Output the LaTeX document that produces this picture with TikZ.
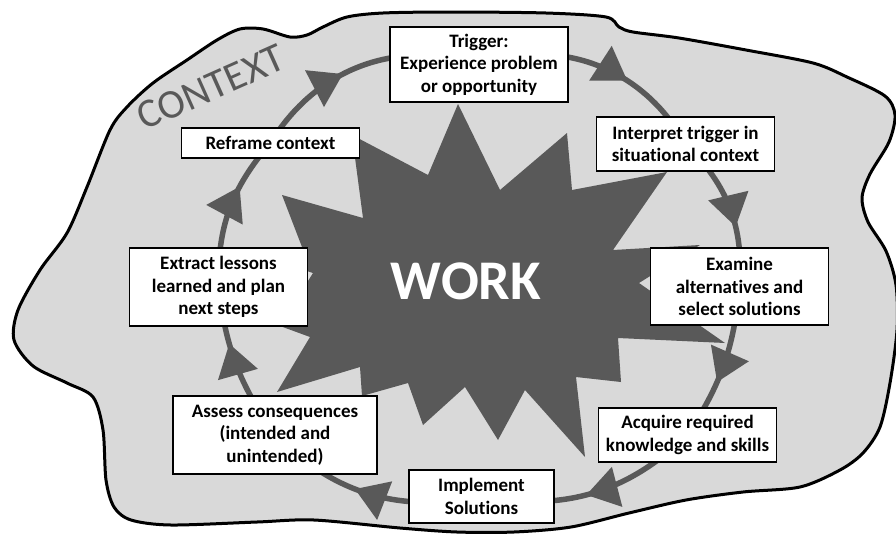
\documentclass[tikz,border=0pt]{standalone}
\usepackage{fontspec}
\setmainfont{Carlito}[Ligatures=CommonOff]
\usetikzlibrary{arrows.meta,decorations.markings,backgrounds}
\definecolor{ctxgray}{HTML}{D9D9D9}
\definecolor{workgray}{HTML}{595959}
\def\ctxblob{plot[smooth cycle] coordinates {
  (450,12) (546,13) (606,17) (619,27) (633,32) (679,38) (746,50) (813,63)
  (847,77) (885,96) (895,115) (889,142) (870,174) (862,198) (868,222)
  (886,251) (896,285) (897,330) (890,383) (880,427) (863,453) (840,470)
  (800,487) (743,492) (686,500) (629,513) (571,527) (514,532) (457,532)
  (400,528) (314,520) (257,522) (171,525) (131,520) (114,507) (106,480)
  (103,430) (93,397) (67,383) (33,366) (14,340) (18,310) (40,270) (67,233)
  (87,187) (110,130) (127,107) (153,83) (187,60) (217,40) (240,29) (263,29)
  (290,37) (307,35) (323,27) (347,17) (383,13)}}
\def\workstar{(458,104) -- (500,190) -- (567,133) -- (572,190) -- (667,172)
  -- (613,250) -- (700,245) -- (639,283) -- (725,343) -- (618,338)
  -- (621,382) -- (576,377) -- (585,457) -- (525,390) -- (498,440)
  -- (465,387) -- (423,425) -- (408,383) -- (362,396) -- (360,367)
  -- (277,392) -- (310,337) -- (280,326) -- (313,273) -- (250,252)
  -- (302,247) -- (282,195) -- (363,218) -- (352,135) -- (428,175) -- cycle}
\tikzset{
  stepbox/.style={draw=black, line width=1.5pt, fill=white, align=center,
    minimum width=178pt, inner sep=2pt,
    font=\bfseries\fontsize{19}{22.5}\selectfont},
  loopline/.style={draw=workgray, line width=5.5pt,
    postaction={decorate, decoration={markings,
      mark=at position #1 with {\arrow[workgray]{Triangle[length=32pt,width=40pt]}}}}},
  loopline/.default=0.5
}

\begin{document}
\begin{tikzpicture}[x=1pt,y=-1pt]
\useasboundingbox (0,0) rectangle (896,533);
\node[stepbox, minimum height=75pt] (trig) at (479,64.5) {Trigger:\\Experience problem\\or opportunity};
\node[stepbox, minimum height=54pt] (interp) at (685.5,144) {Interpret trigger in\\situational context};
\node[stepbox, minimum height=77pt] (exam) at (739.5,286.5) {Examine\\alternatives and\\select solutions};
\node[stepbox, minimum height=54pt] (acq) at (687.5,435) {Acquire required\\knowledge and skills};
\node[stepbox, minimum width=145pt, minimum height=53pt] (impl) at (481.5,496.5) {Implement\\Solutions};
\node[stepbox, minimum width=204pt, minimum height=78pt] (assess) at (275,435) {Assess consequences\\(intended and\\unintended)};
\node[stepbox, minimum height=78pt] (lesson) at (218.5,287) {Extract lessons\\learned and plan\\next steps};
\node[stepbox, minimum height=30pt] (reframe) at (270.5,143) {Reframe context};
\node[text=white, font=\bfseries\fontsize{56}{60}\selectfont] (work) at (466,281) {WORK};
\node[text=workgray, rotate=24, font=\fontsize{41}{44}\selectfont] (ctx) at (211,87) {CONTEXT};

\begin{scope}[on background layer]
  \draw[fill=ctxgray, line width=3pt] \ctxblob;
  \fill[workgray] \workstar;
  \draw[loopline=0.64] (trig.center) to[bend left=40] (interp.center);
  \draw[loopline=0.62] (interp.center) to[bend left=25] (exam.center);
  \draw[loopline=0.62] (exam.center) to[bend left=14] (acq.center);
  \draw[loopline=0.53] (acq.center) to[bend left=27] (impl.center);
  \draw[loopline=0.57] (impl.center) to[bend left=28] (assess.center);
  \draw[loopline=0.64] (assess.center) to[bend left=14] (lesson.center);
  \draw[loopline=0.66] (lesson.center) to[bend left=21] (reframe.center);
  \draw[loopline=0.42] (reframe.center) to[bend left=38] (trig.center);
\end{scope}
\end{tikzpicture}
\end{document}
